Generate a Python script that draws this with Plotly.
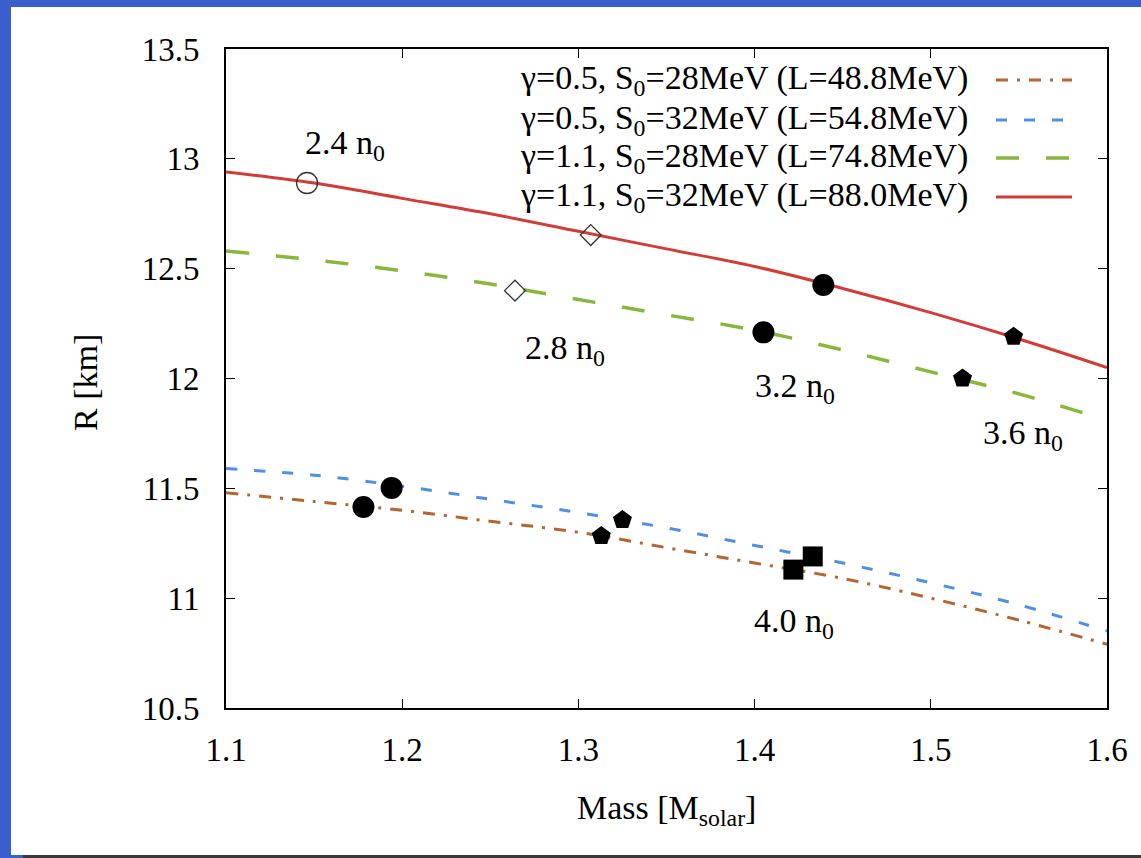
import plotly.graph_objects as go

# ---- data ----
mass = [1.10, 1.15, 1.20, 1.25, 1.30, 1.35, 1.40, 1.45, 1.50, 1.55, 1.60]
r_g05_s28 = [11.48, 11.44, 11.40, 11.35, 11.30, 11.23, 11.16, 11.09, 11.00, 10.90, 10.79]
r_g05_s32 = [11.59, 11.56, 11.51, 11.45, 11.39, 11.32, 11.24, 11.16, 11.07, 10.97, 10.85]
r_g11_s28 = [12.58, 12.54, 12.49, 12.43, 12.36, 12.29, 12.22, 12.13, 12.03, 11.93, 11.81]
r_g11_s32 = [12.94, 12.89, 12.82, 12.75, 12.67, 12.59, 12.51, 12.41, 12.30, 12.18, 12.05]

series_names = [
    "γ=0.5, S<sub>0</sub>=28MeV (L=48.8MeV)",
    "γ=0.5, S<sub>0</sub>=32MeV (L=54.8MeV)",
    "γ=1.1, S<sub>0</sub>=28MeV (L=74.8MeV)",
    "γ=1.1, S<sub>0</sub>=32MeV (L=88.0MeV)",
]

# density markers
open_circle_m = [1.146]
open_circle_r = [12.89]
open_diamond_m = [1.307, 1.264]
open_diamond_r = [12.653, 12.40]
circle_m = [1.439, 1.405, 1.178, 1.194]
circle_r = [12.426, 12.21, 11.415, 11.502]
pentagon_m = [1.547, 1.518, 1.313, 1.325]
pentagon_r = [12.19, 12.00, 11.283, 11.356]
square_m = [1.422, 1.433]
square_r = [11.13, 11.19]

density_labels = ["2.4 n<sub>0</sub>", "2.8 n<sub>0</sub>", "3.2 n<sub>0</sub>",
                  "3.6 n<sub>0</sub>", "4.0 n<sub>0</sub>"]
label_m = [1.1675, 1.2924, 1.423, 1.5523, 1.4224]
label_r = [13.063, 12.13, 11.957, 11.743, 10.887]

# ---- styling ----
colors = ["#b5652f", "#4f8fe6", "#86b83c", "#d33c36"]
dashes = ["12px,9px,3px,9px", "11px,17px", "23px,27px", "solid"]
widths = [3, 3, 3.5, 3]
FONT = "'Liberation Serif', 'Times New Roman', serif"
FS = 34

W, H = 1141, 858
L, R, T, B = 226, 34, 49, 150
PW, PH = W - L - R, H - T - B


def px(x):
    return (x - L) / PW


def py(y):
    return 1 - (y - T) / PH


fig = go.Figure()
curves = [r_g05_s28, r_g05_s32, r_g11_s28, r_g11_s32]
for ys, c, d, w, n in zip(curves, colors, dashes, widths, series_names):
    fig.add_trace(go.Scatter(x=mass, y=ys, mode="lines", name=n, line_shape="spline",
                             line=dict(color=c, dash=d, width=w), showlegend=False))

fig.add_trace(go.Scatter(x=open_circle_m, y=open_circle_r, mode="markers", showlegend=False,
                         marker=dict(symbol="circle-open", size=21, color="#333",
                                     line=dict(width=1.3, color="#333"))))
fig.add_trace(go.Scatter(x=open_diamond_m, y=open_diamond_r, mode="markers", showlegend=False,
                         marker=dict(symbol="diamond-open", size=16, color="#333",
                                     line=dict(width=1.3, color="#333"))))
fig.add_trace(go.Scatter(x=circle_m, y=circle_r, mode="markers", showlegend=False,
                         marker=dict(symbol="circle", size=22, color="black")))
fig.add_trace(go.Scatter(x=pentagon_m, y=pentagon_r, mode="markers", showlegend=False,
                         marker=dict(symbol="pentagon", size=20, color="black")))
fig.add_trace(go.Scatter(x=square_m, y=square_r, mode="markers", showlegend=False,
                         marker=dict(symbol="square", size=20, color="black")))

annotations = []
for t, xm, yr in zip(density_labels, label_m, label_r):
    annotations.append(dict(x=xm, y=yr, xref="x", yref="y", text=t, showarrow=False,
                            font=dict(family=FONT, size=FS, color="black"),
                            xanchor="center", yanchor="middle"))

# manual legend: right-aligned text, sample to the right
leg_rows_px = [80, 120, 158, 197]
shapes = []
# page decoration: white panel on blue, dark bottom strip
shapes.append(dict(type="rect", xref="paper", yref="paper", layer="below",
                   x0=px(11), x1=px(W + 5), y0=py(855), y1=py(7),
                   fillcolor="white", line=dict(width=0)))
shapes.append(dict(type="rect", xref="paper", yref="paper", layer="below",
                   x0=px(23), x1=px(W + 5), y0=py(W), y1=py(855),
                   fillcolor="#3a3a3a", line=dict(width=0)))
for yrow, n, c, d, w in zip(leg_rows_px, series_names, colors, dashes, widths):
    annotations.append(dict(x=px(970), y=py(yrow), xref="paper", yref="paper", text=n,
                            showarrow=False, xanchor="right", yanchor="middle",
                            font=dict(family=FONT, size=FS, color="black")))
    shapes.append(dict(type="line", xref="paper", yref="paper",
                       x0=px(996), x1=px(1072), y0=py(yrow), y1=py(yrow),
                       line=dict(color=c, dash=d, width=w)))

annotations.append(dict(x=0.5, y=py(810), xref="paper", yref="paper",
                        text="Mass [M<sub>solar</sub>]", showarrow=False,
                        xanchor="center", yanchor="middle",
                        font=dict(family=FONT, size=FS, color="black")))
annotations.append(dict(x=px(85), y=py(383), xref="paper", yref="paper",
                        text="R [km]", showarrow=False, textangle=-90,
                        xanchor="center", yanchor="middle",
                        font=dict(family=FONT, size=FS, color="black")))

axis_common = dict(showline=True, linecolor="black", linewidth=2, mirror="allticks",
                   ticks="inside", ticklen=9, tickwidth=1, tickcolor="black",
                   showgrid=False, zeroline=False,
                   tickfont=dict(family=FONT, size=33, color="black"))

fig.update_layout(
    width=W, height=H,
    margin=dict(l=L, r=R, t=T, b=B),
    paper_bgcolor="#3a5fcd",
    plot_bgcolor="white",
    font=dict(family=FONT),
    xaxis=dict(range=[1.1, 1.6], dtick=0.1, tick0=1.1, ticklabelstandoff=11, **axis_common),
    yaxis=dict(range=[10.5, 13.5], dtick=0.5, tick0=10.5, ticklabelstandoff=18, **axis_common),
    annotations=annotations,
    shapes=shapes,
)

fig.write_html("out.html")
